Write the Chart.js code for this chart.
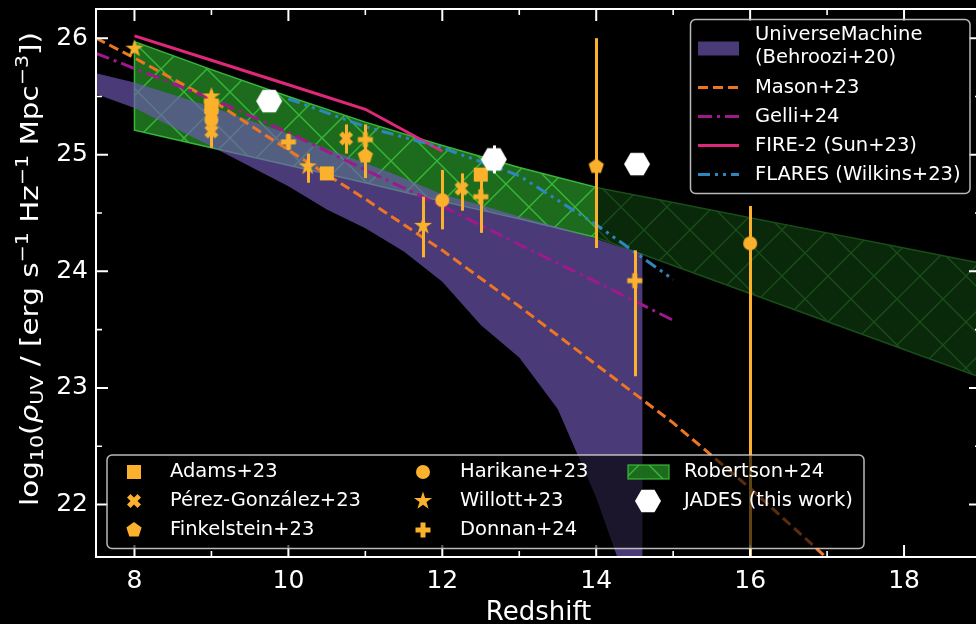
<!DOCTYPE html>
<html>
<head>
<meta charset="utf-8">
<script src="https://cdn.jsdelivr.net/npm/chart.js@4.4.1/dist/chart.umd.min.js"></script>
<style>
  html, body { margin: 0; padding: 0; background: #000; overflow: hidden; }
  #wrap { position: relative; width: 982px; height: 624px; }
  canvas { display: block; }
</style>
</head>
<body>
<div id="wrap"><canvas id="c" width="982" height="624"></canvas></div>
<script>
// ---------------- data ----------------
const xTicks = [8, 10, 12, 14, 16, 18];
const xMinorTicks = [9, 11, 13, 15, 17, 19];
const yTicks = [22, 23, 24, 25, 26];
const yMinorTicks = [22.5, 23.5, 24.5, 25.5];

// UniverseMachine (Behroozi+20) band
const zUM   = [7.5, 8, 9, 10, 10.5, 11, 11.5, 12, 12.5, 13, 13.5, 14, 14.3, 14.6];
const umHigh = [25.70, 25.62, 25.41, 25.18, 25.05, 24.93, 24.80, 24.66, 24.57, 24.47, 24.38, 24.28, 24.21, 24.15];
const umLow  = [25.52, 25.40, 25.07, 24.73, 24.53, 24.37, 24.17, 23.91, 23.54, 23.26, 22.82, 22.06, 21.50, 20.95];

// Robertson+24 band: constrained range and extrapolation
const zRob    = [8, 9, 10, 11, 12, 13, 14];
const robHigh = [25.97, 25.73, 25.50, 25.28, 25.08, 24.89, 24.72];
const robLow  = [25.21, 25.06, 24.91, 24.76, 24.60, 24.45, 24.29];
const zRobExt    = [14, 15, 16, 17, 18, 19];
const robExtHigh = [24.72, 24.59, 24.46, 24.33, 24.20, 24.07];
const robExtLow  = [24.29, 24.05, 23.81, 23.57, 23.33, 23.09];

// model curves
const zMason = [7.5, 8, 9, 10, 11, 12, 13, 14, 15, 16, 17, 17.5];
const mason  = [26.00, 25.83, 25.47, 25.04, 24.62, 24.18, 23.70, 23.20, 22.70, 22.14, 21.54, 21.22];
const zGelli = [7.5, 8, 9, 10, 11, 12, 13, 14, 15];
const gelli  = [25.87, 25.74, 25.48, 25.19, 24.87, 24.56, 24.23, 23.91, 23.58];
const zFire  = [8, 9, 10, 11, 12];
const fire   = [26.02, 25.81, 25.60, 25.39, 25.03];
const zFlares = [10, 11, 12, 13, 14, 15];
const flares  = [25.48, 25.24, 25.06, 24.82, 24.40, 23.93];

// observational estimates: redshift, log rho_UV, lower / upper errors
const zAdams = [9, 10.5, 12.5];
const adams = [25.41, 24.84, 24.83];
const adamsLo = [0.05, 0.05, 0.05];
const adamsHi = [0.05, 0.05, 0.05];

const zPG = [9, 10.75, 12.25];
const pg = [25.20, 25.14, 24.71];
const pgLo = [0.14, 0.13, 0.19];
const pgHi = [0.10, 0.12, 0.13];

const zFink = [9, 11, 14];
const fink = [25.37, 24.99, 24.90];
const finkLo = [0.10, 0.19, 0.70];
const finkHi = [0.08, 0.12, 1.10];

const zHari = [9, 12, 16];
const hari = [25.30, 24.61, 24.24];
const hariLo = [0.10, 0.25, 3.00];
const hariHi = [0.10, 0.26, 0.32];

const zWillott = [8, 9, 10.25, 11.75];
const willott = [25.91, 25.50, 24.90, 24.39];
const willottLo = [0, 0.06, 0.14, 0.27];
const willottHi = [0, 0.05, 0.11, 0.25];

const zDonnan = [9, 10, 11, 12.5, 14.5];
const donnan = [25.46, 25.11, 25.13, 24.64, 23.92];
const donnanLo = [0.08, 0.07, 0.16, 0.31, 0.82];
const donnanHi = [0.07, 0.07, 0.13, 0.16, 0.26];

const zJades = [9.75, 12.67, 14.53];
const jades = [25.46, 24.96, 24.92];
const jadesLo = [0.05, 0.12, 0.05];
const jadesHi = [0.05, 0.12, 0.05];

// ---------------- styles ----------------
const FONT = '"DejaVu Sans", "Liberation Sans", sans-serif';
const ORANGE = '#FBB12B';
const UM_FILL = 'rgba(113, 88, 182, 0.66)';
const C_MASON = '#EE7622';
const C_GELLI = '#A0198C';
const C_FIRE = '#E0287A';
const C_FLARES = '#2E86C1';
const DASH_MASON = [10, 5];
const DASH_GELLI = [14, 5, 3, 5];
const DASH_FLARES = [12, 5, 3, 5, 3, 5];

Chart.defaults.font.family = FONT;

function hatchPattern(bg, fg, size) {
  const c = document.createElement('canvas');
  c.width = size; c.height = size;
  const g = c.getContext('2d');
  g.fillStyle = bg;
  g.fillRect(0, 0, size, size);
  g.strokeStyle = fg;
  g.lineWidth = 1.4;
  g.beginPath();
  g.moveTo(-2, -2); g.lineTo(size + 2, size + 2);
  g.moveTo(size + 2, -2); g.lineTo(-2, size + 2);
  g.stroke();
  return g.createPattern(c, 'repeat');
}
const ROB_BRIGHT = hatchPattern('#1D6C1D', '#38B838', 46);
const ROB_DARK = hatchPattern('#0A280A', '#1A4D1A', 46);
const ROB_EDGE = '#38B838';
const ROB_EDGE_DARK = '#1A4D1A';

function makeMarker(shape, size, color) {
  const dim = Math.ceil(size) + 6 + (Math.ceil(size) % 2);
  const c = document.createElement('canvas');
  c.width = dim; c.height = dim;
  const g = c.getContext('2d');
  g.translate(dim / 2, dim / 2);
  g.fillStyle = color;
  g.beginPath();
  const poly = pts => {
    pts.forEach(([a, b], i) => i ? g.lineTo(a * size, b * size) : g.moveTo(a * size, b * size));
    g.closePath();
  };
  const ring = (n, r0, start) => {
    const pts = [];
    for (let k = 0; k < n; k++) {
      const r = typeof r0 === 'function' ? r0(k) : r0;
      const ang = start + k * 2 * Math.PI / n;
      pts.push([r * Math.cos(ang), r * Math.sin(ang)]);
    }
    return pts;
  };
  if (shape === 'square') g.rect(-size / 2, -size / 2, size, size);
  else if (shape === 'circle') g.arc(0, 0, size / 2, 0, 2 * Math.PI);
  else if (shape === 'star') poly(ring(10, k => (k % 2 ? 0.5 * 0.381966 : 0.5), -Math.PI / 2));
  else if (shape === 'pentagon') poly(ring(5, 0.5, -Math.PI / 2));
  else if (shape === 'hexagon') poly(ring(6, 0.5, 0));
  else if (shape === 'plus') poly([[-1,-3],[1,-3],[1,-1],[3,-1],[3,1],[1,1],[1,3],[-1,3],[-1,1],[-3,1],[-3,-1],[-1,-1]].map(([a, b]) => [a / 6, b / 6]));
  else if (shape === 'x') poly([[-1,-2],[0,-1],[1,-2],[2,-1],[1,0],[2,1],[1,2],[0,1],[-1,2],[-2,1],[-1,0],[-2,-1]].map(([a, b]) => [a / 4, b / 4]));
  g.fill();
  return c;
}
const MK = {
  square: makeMarker('square', 14, ORANGE),
  x: makeMarker('x', 14, ORANGE),
  pentagon: makeMarker('pentagon', 16, ORANGE),
  circle: makeMarker('circle', 14, ORANGE),
  star: makeMarker('star', 19, ORANGE),
  plus: makeMarker('plus', 15, ORANGE),
  hexagon: makeMarker('hexagon', 26, '#FFFFFF')
};

// ---------------- dataset builders ----------------
const xy = (xs, ys) => xs.map((x, i) => ({ x, y: ys[i] }));
function outline(xs, hi, lo) {
  // closed polygon: along the upper edge, back along the lower edge
  const pts = xy(xs, hi);
  for (let i = xs.length - 1; i >= 0; i--) pts.push({ x: xs[i], y: lo[i] });
  pts.push({ x: xs[0], y: hi[0] });
  return pts;
}
const EXACT_CLIP = { left: 0, top: 0, right: 0, bottom: 0 };
function bandSet(label, xs, hi, lo, fillStyle, edge, width, order) {
  return { label, data: outline(xs, hi, lo), showLine: true, fill: 'shape', backgroundColor: fillStyle,
           borderColor: edge, borderWidth: width, pointRadius: 0, tension: 0, order, clip: EXACT_CLIP };
}
function curveSet(label, xs, ys, color, dash, order) {
  return { label, data: xy(xs, ys), showLine: true, fill: false, borderColor: color, borderWidth: 3,
           borderDash: dash, pointRadius: 0, tension: 0, order, clip: EXACT_CLIP, borderCapStyle: 'butt' };
}
function pointSet(label, xs, ys, lo, hi, marker, errColor, order) {
  return { label, data: xy(xs, ys), showLine: false, pointStyle: marker, pointRadius: 8,
           errLo: lo, errHi: hi, errColor, order, clip: false };
}

const datasets = [
  bandSet('Robertson+24', zRob, robHigh, robLow, ROB_BRIGHT, ROB_EDGE, 1.5, 100),
  bandSet('Robertson+24 (extrapolated)', zRobExt, robExtHigh, robExtLow, ROB_DARK, ROB_EDGE_DARK, 1.5, 99),
  bandSet('UniverseMachine (Behroozi+20)', zUM, umHigh, umLow, UM_FILL, 'rgba(0,0,0,0)', 0, 98),
  curveSet('Mason+23', zMason, mason, C_MASON, DASH_MASON, 50),
  curveSet('Gelli+24', zGelli, gelli, C_GELLI, DASH_GELLI, 49),
  curveSet('FIRE-2 (Sun+23)', zFire, fire, C_FIRE, [], 48),
  curveSet('FLARES (Wilkins+23)', zFlares, flares, C_FLARES, DASH_FLARES, 47),
  pointSet('Adams+23', zAdams, adams, adamsLo, adamsHi, MK.square, ORANGE, 10),
  pointSet('Pérez-González+23', zPG, pg, pgLo, pgHi, MK.x, ORANGE, 9),
  pointSet('Finkelstein+23', zFink, fink, finkLo, finkHi, MK.pentagon, ORANGE, 8),
  pointSet('Harikane+23', zHari, hari, hariLo, hariHi, MK.circle, ORANGE, 7),
  pointSet('Willott+23', zWillott, willott, willottLo, willottHi, MK.star, ORANGE, 6),
  pointSet('Donnan+24', zDonnan, donnan, donnanLo, donnanHi, MK.plus, ORANGE, 5),
  pointSet('JADES (this work)', zJades, jades, jadesLo, jadesHi, MK.hexagon, '#FFFFFF', 1)
];

// ---------------- plugins ----------------
const blackBackground = {
  id: 'blackBackground',
  beforeDraw(chart) {
    const { ctx, width, height } = chart;
    ctx.save();
    ctx.fillStyle = '#000';
    ctx.fillRect(0, 0, width, height);
    ctx.restore();
  }
};

const errorBars = {
  id: 'errorBars',
  beforeDatasetDraw(chart, args) {
    const ds = chart.data.datasets[args.index];
    if (!ds.errLo) return;
    const { ctx, chartArea: a, scales: { x, y } } = chart;
    ctx.save();
    ctx.beginPath();
    ctx.rect(a.left, a.top, a.right - a.left, a.bottom - a.top);
    ctx.clip();
    ctx.strokeStyle = ds.errColor;
    ctx.lineWidth = 3;
    ds.data.forEach((p, i) => {
      const lo = ds.errLo[i], hi = ds.errHi[i];
      if (!lo && !hi) return;
      const px = Math.round(x.getPixelForValue(p.x)) + 0.5;
      ctx.beginPath();
      ctx.moveTo(px, y.getPixelForValue(p.y + hi));
      ctx.lineTo(px, y.getPixelForValue(p.y - lo));
      ctx.stroke();
    });
    ctx.restore();
  }
};

const frame = {
  id: 'frame',
  afterDatasetsDraw(chart) {
    const { ctx, chartArea: a, scales: { x, y } } = chart;
    ctx.save();
    ctx.strokeStyle = '#FFFFFF';
    ctx.lineWidth = 2;
    ctx.strokeRect(a.left, a.top, a.right - a.left, a.bottom - a.top);
    const xt = (vals, len, w) => {
      ctx.lineWidth = w;
      vals.forEach(v => {
        const px = x.getPixelForValue(v);
        ctx.beginPath();
        ctx.moveTo(px, a.bottom); ctx.lineTo(px, a.bottom - len);
        ctx.moveTo(px, a.top); ctx.lineTo(px, a.top + len);
        ctx.stroke();
      });
    };
    const yt = (vals, len, w) => {
      ctx.lineWidth = w;
      vals.forEach(v => {
        const py = y.getPixelForValue(v);
        ctx.beginPath();
        ctx.moveTo(a.left, py); ctx.lineTo(a.left + len, py);
        ctx.moveTo(a.right, py); ctx.lineTo(a.right - len, py);
        ctx.stroke();
      });
    };
    xt(xTicks, 12, 2); xt(xMinorTicks, 6, 1.6);
    yt(yTicks, 12, 2); yt(yMinorTicks, 6, 1.6);
    ctx.restore();
  }
};

function legendFrame(ctx, x0, y0, x1, y1) {
  const r = 5;
  ctx.beginPath();
  ctx.moveTo(x0 + r, y0);
  ctx.arcTo(x1, y0, x1, y1, r);
  ctx.arcTo(x1, y1, x0, y1, r);
  ctx.arcTo(x0, y1, x0, y0, r);
  ctx.arcTo(x0, y0, x1, y0, r);
  ctx.closePath();
  ctx.fillStyle = 'rgba(0,0,0,0.62)';
  ctx.fill();
  ctx.strokeStyle = 'rgba(205,205,205,0.9)';
  ctx.lineWidth = 1.5;
  ctx.stroke();
}
function legendLine(ctx, x0, x1, yy, color, dash) {
  ctx.save();
  ctx.strokeStyle = color;
  ctx.lineWidth = 3;
  ctx.setLineDash(dash);
  ctx.beginPath();
  ctx.moveTo(x0, yy); ctx.lineTo(x1, yy);
  ctx.stroke();
  ctx.restore();
}
function legendText(ctx, str, x0, yy) {
  ctx.fillStyle = '#FFFFFF';
  ctx.font = '19.5px ' + FONT;
  ctx.textAlign = 'left';
  ctx.textBaseline = 'middle';
  ctx.fillText(str, x0, yy);
}
function legendMarker(ctx, mk, cx, cy) {
  ctx.drawImage(mk, Math.round(cx - mk.width / 2), Math.round(cy - mk.height / 2));
}

function richText(ctx, parts, base) {
  // parts: [text, kind]; kind = n (normal), i (italic), b (subscript), p (superscript)
  const fontFor = k => (k === 'b' || k === 'p') ? (base * 0.7) + 'px ' + FONT
                     : (k === 'i' ? 'italic ' : '') + base + 'px ' + FONT;
  let total = 0;
  const widths = parts.map(([t, k]) => { ctx.font = fontFor(k); const w = ctx.measureText(t).width; total += w; return w; });
  return { total, draw(x0) {
    let xx = x0;
    parts.forEach(([t, k], i) => {
      ctx.font = fontFor(k);
      const dy = k === 'b' ? base * 0.2 : (k === 'p' ? -base * 0.4 : 0);
      ctx.fillText(t, xx, dy);
      xx += widths[i];
    });
  } };
}

const overlay = {
  id: 'overlay',
  afterDraw(chart) {
    const { ctx, chartArea: a } = chart;
    ctx.save();

    // axis titles
    ctx.fillStyle = '#FFFFFF';
    ctx.textAlign = 'center';
    ctx.textBaseline = 'alphabetic';
    ctx.font = '26px ' + FONT;
    ctx.fillText('Redshift', (a.left + a.right) / 2, 620);

    ctx.save();
    ctx.textAlign = 'left';
    const yTitle = richText(ctx, [
      ['log', 'n'], ['10', 'b'], ['(', 'n'], ['ρ', 'i'], ['UV', 'b'],
      [' / [erg s', 'n'], ['−1', 'p'], [' Hz', 'n'], ['−1', 'p'], [' Mpc', 'n'], ['−3', 'p'], ['])', 'n']
    ], 25);
    const span = 474;
    ctx.translate(38, 269);
    ctx.rotate(-Math.PI / 2);
    ctx.scale(span / yTitle.total, 1);
    yTitle.draw(-yTitle.total / 2);
    ctx.restore();

    // model legend (upper right)
    legendFrame(ctx, 690.5, 19.5, 970, 193.5);
    ctx.fillStyle = UM_FILL;
    ctx.fillRect(698, 41.5, 41, 14);
    legendText(ctx, 'UniverseMachine', 755, 35);
    legendText(ctx, '(Behroozi+20)', 755, 58);
    legendLine(ctx, 698, 739, 87.5, C_MASON, DASH_MASON);
    legendText(ctx, 'Mason+23', 755, 87.5);
    legendLine(ctx, 698, 739, 116.5, C_GELLI, DASH_GELLI);
    legendText(ctx, 'Gelli+24', 755, 116.5);
    legendLine(ctx, 698, 739, 145.5, C_FIRE, []);
    legendText(ctx, 'FIRE-2 (Sun+23)', 755, 145.5);
    legendLine(ctx, 698, 739, 174.5, C_FLARES, DASH_FLARES);
    legendText(ctx, 'FLARES (Wilkins+23)', 755, 174.5);

    // observations legend (lower left)
    legendFrame(ctx, 107, 455, 864, 548.5);
    const rows = [472, 501, 529.5];
    legendMarker(ctx, MK.square, 134, rows[0]); legendText(ctx, 'Adams+23', 170, rows[0]);
    legendMarker(ctx, MK.x, 134, rows[1]); legendText(ctx, 'Pérez-González+23', 170, rows[1]);
    legendMarker(ctx, MK.pentagon, 134, rows[2]); legendText(ctx, 'Finkelstein+23', 170, rows[2]);
    legendMarker(ctx, MK.circle, 423, rows[0]); legendText(ctx, 'Harikane+23', 460, rows[0]);
    legendMarker(ctx, MK.star, 423, rows[1]); legendText(ctx, 'Willott+23', 460, rows[1]);
    legendMarker(ctx, MK.plus, 423, rows[2]); legendText(ctx, 'Donnan+24', 460, rows[2]);
    ctx.fillStyle = ROB_BRIGHT;
    ctx.fillRect(628, 465, 41, 14);
    ctx.strokeStyle = ROB_EDGE; ctx.lineWidth = 1.2;
    ctx.strokeRect(628, 465, 41, 14);
    legendText(ctx, 'Robertson+24', 684, rows[0]);
    legendMarker(ctx, MK.hexagon, 648, rows[1]);
    legendText(ctx, 'JADES (this work)', 684, rows[1]);

    ctx.restore();
  }
};

// ---------------- chart ----------------
new Chart(document.getElementById('c'), {
  type: 'scatter',
  data: { datasets },
  options: {
    responsive: false,
    animation: false,
    events: [],
    layout: { autoPadding: false, padding: { top: 9, right: 1, left: 0, bottom: 0 } },
    plugins: { legend: { display: false }, tooltip: { enabled: false } },
    scales: {
      x: {
        type: 'linear', min: 7.5, max: 19,
        grid: { display: false, drawTicks: false },
        border: { display: false },
        afterFit: s => { s.height = 67; s.paddingLeft = 0; s.paddingRight = 0; },
        afterBuildTicks: s => { s.ticks = xTicks.map(v => ({ value: v })); },
        ticks: { color: '#FFFFFF', font: { size: 25, family: FONT }, padding: 9, maxRotation: 0, autoSkip: false,
                 callback: v => String(v) }
      },
      y: {
        type: 'linear', min: 21.55, max: 26.25,
        grid: { display: false, drawTicks: false },
        border: { display: false },
        afterFit: s => { s.width = 96; s.paddingTop = 0; s.paddingBottom = 0; },
        afterBuildTicks: s => { s.ticks = yTicks.map(v => ({ value: v })); },
        ticks: { color: '#FFFFFF', font: { size: 25, family: FONT }, padding: 8, autoSkip: false,
                 callback: v => String(v) }
      }
    }
  },
  plugins: [blackBackground, errorBars, frame, overlay]
});
</script>
</body>
</html>
